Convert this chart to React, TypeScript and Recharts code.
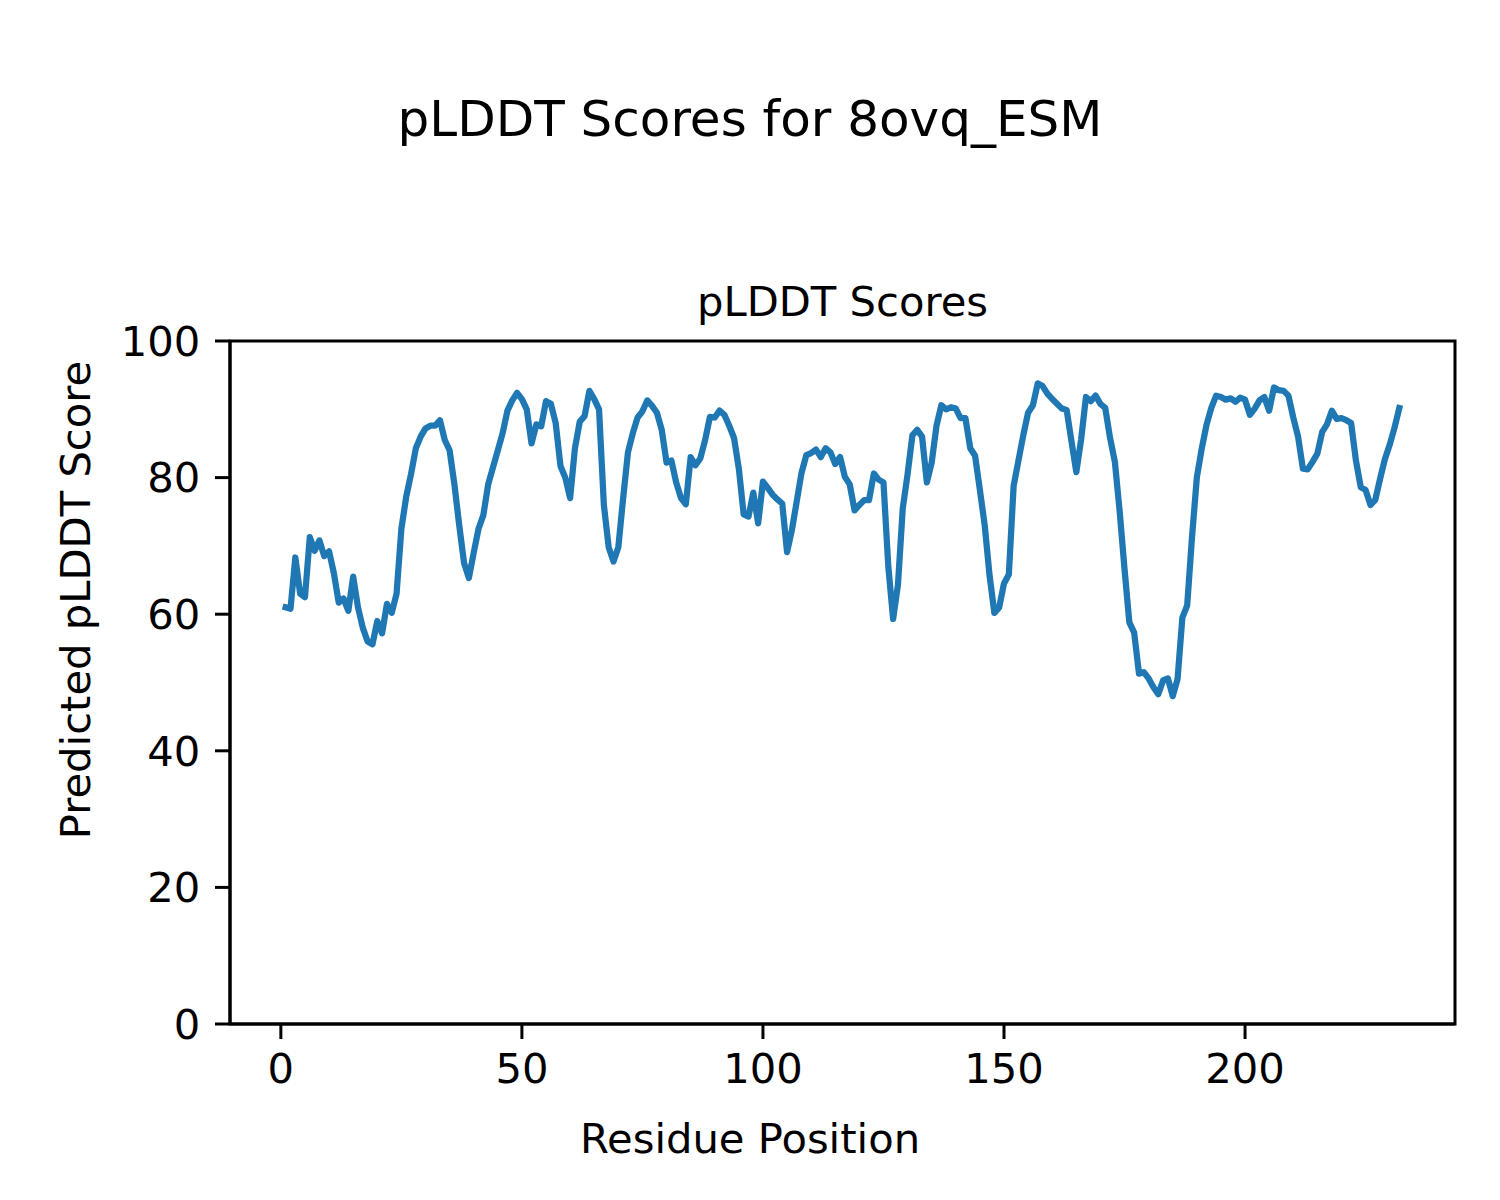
import { LineChart, Line, XAxis, YAxis, ReferenceArea } from 'recharts'

// pLDDT score per residue (residue 1..232)
const scores = [
  61, 60.8, 68.3, 63, 62.5, 71.3, 69.3, 70.8, 68.5, 69.2,
  66, 61.7, 62.3, 60.5, 65.5, 61, 58, 56, 55.6, 59,
  57.2, 61.5, 60.2, 63, 72.5, 77.2, 80.5, 84.3, 86, 87.2,
  87.6, 87.6, 88.4, 85.5, 84, 79, 73, 67.5, 65.3, 69,
  72.5, 74.5, 79, 81.5, 84, 86.5, 89.8, 91.3, 92.4, 91.5,
  90, 85, 87.8, 87.5, 91.2, 90.8, 88, 81.7, 80, 77,
  84.3, 88.2, 89, 92.7, 91.5, 90, 76, 69.8, 67.7, 69.8,
  77, 83.7, 86.5, 88.8, 89.7, 91.3, 90.5, 89.5, 87, 82.2,
  82.5, 79.3, 77, 76.1, 83, 81.8, 82.8, 85.5, 88.9, 88.8,
  89.8, 89.2, 87.6, 85.8, 81.3, 74.6, 74.3, 77.8, 73.3, 79.4,
  78.5, 77.5, 76.8, 76.2, 69.1, 72.3, 76.5, 80.7, 83.3, 83.6,
  84.1, 83, 84.3, 83.7, 82, 83, 80.1, 79, 75.2, 76,
  76.7, 76.7, 80.6, 79.7, 79.3, 67, 59.3, 64.3, 75.5, 80.5,
  86.2, 87, 86, 79.3, 82.2, 87.6, 90.6, 90, 90.3, 90.1,
  88.7, 88.7, 84.3, 83.2, 78.2, 73, 65.7, 60.2, 61, 64.5,
  65.8, 78.8, 82.5, 86.2, 89.5, 90.6, 93.8, 93.4, 92.3, 91.5,
  90.8, 90.1, 89.9, 85.3, 80.8, 85.6, 91.8, 91.2, 92, 90.8,
  90.2, 85.8, 82.3, 75, 66.6, 58.8, 57.3, 51.3, 51.5, 50.6,
  49.3, 48.3, 50.3, 50.6, 48, 50.5, 59.5, 61.3, 71.3, 80,
  84.2, 87.7, 90.2, 92, 91.8, 91.4, 91.6, 91.1, 91.7, 91.4,
  89.2, 90.1, 91.3, 91.8, 89.8, 93.2, 92.8, 92.7, 92, 88.8,
  86, 81.3, 81.2, 82.3, 83.5, 86.7, 87.8, 89.8, 88.6, 88.7,
  88.4, 88, 82.5, 78.6, 78.2, 76, 76.7, 79.8, 82.7, 84.8,
  87.3, 90.2,
]

const xTicks = [0, 50, 100, 150, 200]
const yTicks = [0, 20, 40, 60, 80, 100]
const xDomain: [number, number] = [-10.55, 243.55]

const data = scores.map((s, i) => ({ residue: i + 1, plddt: s }))

const FONT = 'DejaVu Sans, sans-serif'
const tickStyle = { fill: '#000', fontSize: 41.7, fontFamily: FONT }

export default function App() {
  return (
    <div style={{ position: 'absolute', left: 0, top: 0, width: 1500, height: 1200, background: '#fff' }}>
      <LineChart
        width={1500}
        height={1200}
        data={data}
        margin={{ top: 341, right: 45, bottom: 76, left: 130 }}
      >
        <XAxis
          dataKey="residue"
          type="number"
          domain={xDomain}
          ticks={xTicks}
          allowDataOverflow
          height={100}
          tick={tickStyle}
          tickSize={15}
          tickMargin={14.6}
          axisLine={{ stroke: '#000', strokeWidth: 3 }}
          tickLine={{ stroke: '#000', strokeWidth: 3 }}
        />
        <YAxis
          type="number"
          domain={[0, 100]}
          ticks={yTicks}
          allowDataOverflow
          width={100}
          tick={tickStyle}
          tickSize={15}
          tickMargin={14.6}
          axisLine={{ stroke: '#000', strokeWidth: 3 }}
          tickLine={{ stroke: '#000', strokeWidth: 3 }}
        />
        <ReferenceArea
          x1={xDomain[0]}
          x2={xDomain[1]}
          y1={0}
          y2={100}
          fill="none"
          fillOpacity={0}
          stroke="#000"
          strokeWidth={3}
        />
        <Line
          type="linear"
          dataKey="plddt"
          stroke="#1f77b4"
          strokeWidth={6.25}
          strokeLinecap="square"
          strokeLinejoin="round"
          dot={false}
          activeDot={false}
          isAnimationActive={false}
        />
      </LineChart>
      <svg
        width={1500}
        height={1200}
        style={{ position: 'absolute', left: 0, top: 0, pointerEvents: 'none' }}
      >
        <text x={750} y={136} textAnchor="middle" fontSize={50} fontFamily={FONT} fill="#000">
          pLDDT Scores for 8ovq_ESM
        </text>
        <text x={842.5} y={316} textAnchor="middle" fontSize={41.7} fontFamily={FONT} fill="#000">
          pLDDT Scores
        </text>
        <text x={750} y={1153} textAnchor="middle" fontSize={41.7} fontFamily={FONT} fill="#000">
          Residue Position
        </text>
        <text
          x={90}
          y={600}
          textAnchor="middle"
          fontSize={41.7}
          fontFamily={FONT}
          fill="#000"
          transform="rotate(-90, 90, 600)"
        >
          Predicted pLDDT Score
        </text>
      </svg>
    </div>
  )
}
